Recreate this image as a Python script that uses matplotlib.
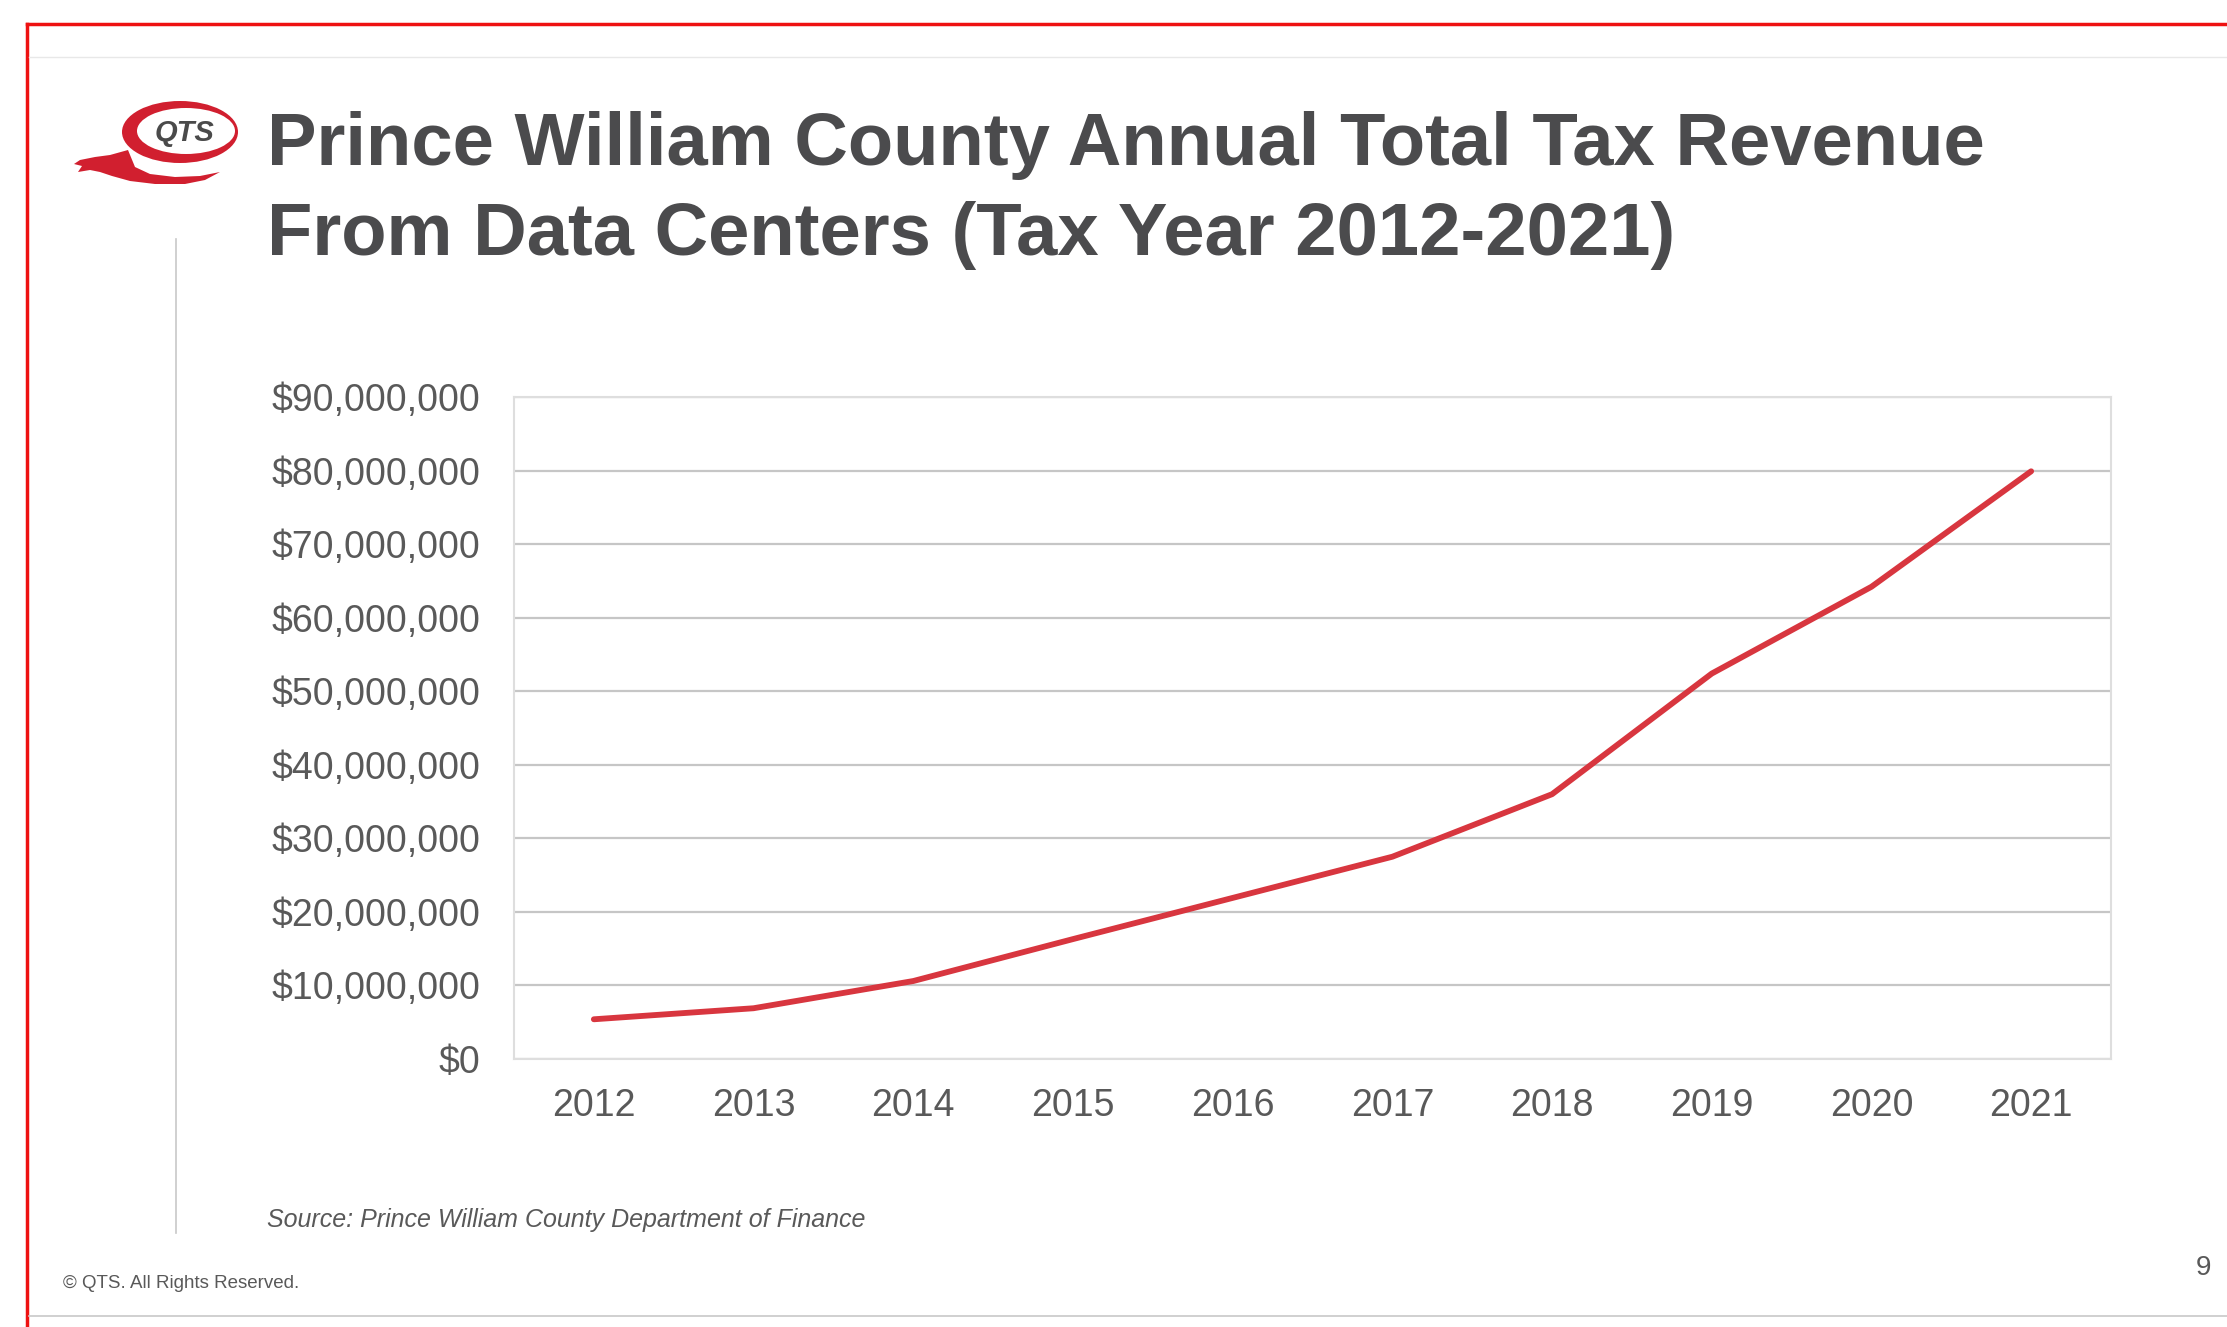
import matplotlib.pyplot as plt
from matplotlib.patches import Ellipse, Polygon
from matplotlib.ticker import FuncFormatter

years = ['2012', '2013', '2014', '2015', '2016', '2017', '2018', '2019', '2020', '2021']
revenue = [5.4e6, 6.9e6, 10.6e6, 16.3e6, 21.9e6, 27.5e6, 36.0e6, 52.4e6, 64.2e6, 79.9e6]
y_ticks = [i * 10e6 for i in range(10)]

W, H = 2227, 1327
plt.rcParams['font.family'] = ['Liberation Sans', 'DejaVu Sans']

fig = plt.figure(figsize=(W / 100, H / 100), dpi=100)

# page decorations drawn in pixel coordinates
bg = fig.add_axes([0, 0, 1, 1])
bg.set_xlim(0, W)
bg.set_ylim(H, 0)
bg.axis('off')
bg.plot([27, W], [24, 24], color='#ee1111', lw=2.5)
bg.plot([27, 27], [24, H], color='#ee1111', lw=2.5)
bg.plot([29, W], [57, 57], color='#e8e8e8', lw=1)
bg.plot([176, 176], [239, 1233], color='#c8c8c8', lw=1.2)
bg.plot([29, W], [1316, 1316], color='#c8c8c8', lw=1.2)

# QTS logo (rough approximation)
logo_red = '#d11f2f'
bg.add_patch(Polygon([(128, 150), (110, 155), (95, 157), (80, 160), (74, 164), (82, 166),
                      (78, 172), (90, 170), (100, 172), (112, 176), (130, 181), (155, 184),
                      (185, 184), (205, 180), (220, 172), (200, 176), (175, 177), (150, 174),
                      (135, 167)],
                     closed=True, facecolor=logo_red, edgecolor='none'))
bg.add_patch(Ellipse((180, 132), 116, 62, facecolor=logo_red, edgecolor='none'))
bg.add_patch(Ellipse((186, 131), 98, 46, facecolor='white', edgecolor='none'))
bg.text(184, 133, 'QTS', ha='center', va='center', fontsize=21, fontweight='bold',
        fontstyle='italic', color='#4a4a4a')

# titles
title_color = '#4b4b4d'
fig.text(267 / W, 1 - 165 / H, 'Prince William County Annual Total Tax Revenue',
         fontsize=53.5, fontweight='bold', color=title_color, va='baseline', ha='left')
fig.text(267 / W, 1 - 255 / H, 'From Data Centers (Tax Year 2012-2021)',
         fontsize=53.5, fontweight='bold', color=title_color, va='baseline', ha='left')

# chart
ax = fig.add_axes([514 / W, 1 - 1059 / H, (2111 - 514) / W, (1059 - 397) / H])
x = list(range(len(years)))
ax.plot(x, revenue, color='#d8363f', lw=4.2, solid_capstyle='round', zorder=3)
ax.set_xlim(-0.5, len(years) - 0.5)
ax.set_ylim(0, 90e6)
ax.set_xticks(x, years)
ax.set_yticks(y_ticks)
ax.yaxis.set_major_formatter(FuncFormatter(lambda v, p: '${:,.0f}'.format(v)))
ax.grid(axis='y', color='#c6c6c6', lw=1.6)
ax.set_axisbelow(True)
for s in ax.spines.values():
    s.set_color('#dedede')
    s.set_linewidth(1.5)
ax.tick_params(length=0, labelsize=27, colors='#595959')
ax.tick_params(axis='y', pad=24)
ax.tick_params(axis='x', pad=21)

fig.text(267 / W, 1 - 1227 / H, 'Source: Prince William County Department of Finance',
         fontsize=18, fontstyle='italic', color='#595959', va='baseline')
fig.text(63 / W, 1 - 1288 / H, '\u00a9 QTS. All Rights Reserved.',
         fontsize=13.5, color='#595959', va='baseline')
fig.text(2211 / W, 1 - 1275 / H, '9', fontsize=20, color='#595959', va='baseline', ha='right')

fig.savefig('out.png', dpi=100)
